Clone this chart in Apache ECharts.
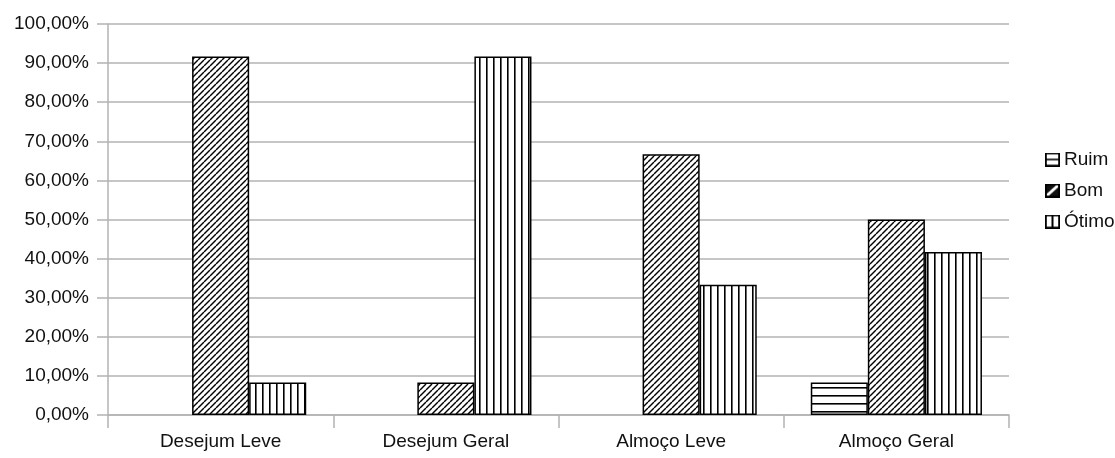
<!DOCTYPE html>
<html><head><meta charset="utf-8">
<script src="https://cdn.jsdelivr.net/npm/echarts@6/dist/echarts.min.js"></script>
<style>html,body{margin:0;padding:0;background:#fff}#c{width:1115px;height:458px}</style>
</head><body><div id="c"></div>
<script>
const categories = ['Desejum Leve', 'Desejum Geral', 'Almoço Leve', 'Almoço Geral'];
const seriesNames = ['Ruim', 'Bom', 'Ótimo'];
const ruim = [0, 0, 0, 8.33];
const bom = [91.67, 8.33, 66.67, 50];
const otimo = [8.33, 91.67, 33.33, 41.67];
const yTicks = [0, 10, 20, 30, 40, 50, 60, 70, 80, 90, 100];

function tile(w, h, draw) {
  const c = document.createElement('canvas');
  c.width = w; c.height = h;
  const g = c.getContext('2d');
  g.fillStyle = '#fff'; g.fillRect(0, 0, w, h);
  g.strokeStyle = '#000'; g.fillStyle = '#000';
  draw(g, w, h);
  return c;
}
const patH = tile(8, 8, (g) => { g.fillRect(0, 3, 8, 1.6); });
const patD = tile(6, 6, (g) => {
  g.lineWidth = 1.4;
  for (const k of [-6, 0, 6]) { g.beginPath(); g.moveTo(k, 6); g.lineTo(k + 6, 0); g.stroke(); }
});
const patV = tile(7, 7, (g) => { g.fillRect(3, 0, 1.6, 7); });

function icon(kind) {
  const W = 15, H = 14;
  const c = document.createElement('canvas');
  c.width = W; c.height = H;
  const g = c.getContext('2d');
  g.fillStyle = '#fff'; g.fillRect(0, 0, W, H);
  g.strokeStyle = '#000'; g.lineWidth = 1.6;
  if (kind === 'H') { g.beginPath(); g.moveTo(1, H / 2); g.lineTo(W - 1, H / 2); g.stroke(); }
  if (kind === 'D') {
    g.fillStyle = '#111'; g.fillRect(0, 0, W, H);
    g.strokeStyle = '#fff'; g.lineWidth = 3;
    g.beginPath(); g.moveTo(2, H - 2); g.lineTo(W - 2, 2); g.stroke();
    g.strokeStyle = '#000';
  }
  if (kind === 'V') { g.lineWidth = 2; g.beginPath(); g.moveTo(W / 2, 1); g.lineTo(W / 2, H - 1); g.stroke(); }
  g.lineWidth = 1.8; g.strokeRect(0.9, 0.9, W - 1.8, H - 1.8);
  return 'image://' + c.toDataURL();
}

const patterns = [patH, patD, patV];
const icons = [icon('H'), icon('D'), icon('V')];
const values = [ruim, bom, otimo];

const chart = echarts.init(document.getElementById('c'), null, { renderer: 'canvas' });
const font = 'Liberation Sans, Arial, sans-serif';
chart.setOption({
  animation: false,
  backgroundColor: '#fff',
  grid: { left: 108, right: 106, top: 24, bottom: 43, containLabel: false },
  legend: {
    orient: 'vertical', left: 1040, top: 145, itemWidth: 15, itemHeight: 14, itemGap: 12,
    textStyle: { fontFamily: font, fontSize: 19, color: '#111', padding: [0, 0, 0, -1] },
    data: seriesNames.map((n, i) => ({ name: n, icon: icons[i] }))
  },
  xAxis: {
    type: 'category', data: categories,
    axisLine: { lineStyle: { color: '#b3b3b3', width: 1.5 } },
    axisTick: { show: true, length: 13, alignWithLabel: false, lineStyle: { color: '#b3b3b3', width: 1.5 } },
    axisLabel: { fontFamily: font, fontSize: 19, color: '#111', margin: 17 }
  },
  yAxis: {
    type: 'value', min: 0, max: 100, interval: 10,
    axisLine: { show: true, lineStyle: { color: '#b3b3b3', width: 1.5 } },
    axisTick: { show: true, length: 11, lineStyle: { color: '#b3b3b3', width: 1.5 } },
    splitLine: { lineStyle: { color: '#b3b3b3', width: 1.5 } },
    axisLabel: {
      fontFamily: font, fontSize: 19, color: '#111', margin: 19,
      customValues: yTicks,
      formatter: (v) => v.toFixed(2).replace('.', ',') + '%'
    }
  },
  series: seriesNames.map((n, i) => ({
    name: n, type: 'bar', barGap: '0%', barCategoryGap: '24%',
    data: values[i].map(v => v === 0 ? null : v),
    itemStyle: { color: { image: patterns[i], repeat: 'repeat' }, borderColor: '#000', borderWidth: 1.5 }
  }))
});
</script></body></html>
